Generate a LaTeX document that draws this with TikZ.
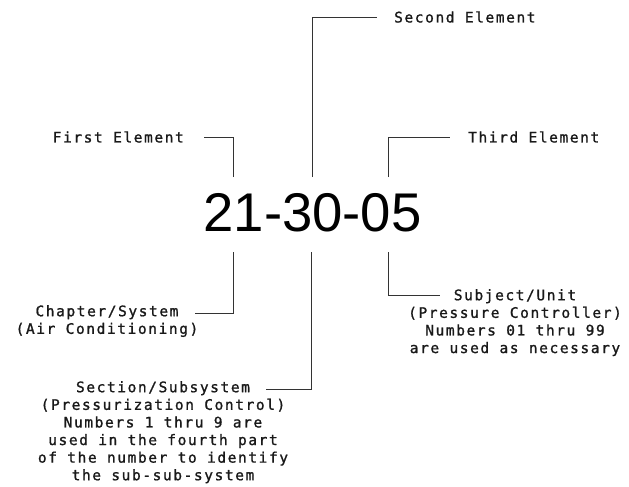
\documentclass[tikz,border=0pt]{standalone}
\usepackage{fontspec}
\newfontfamily\numfont{Liberation Sans}
\newfontfamily\lblfont[LetterSpace=11,FakeBold=1.2]{DejaVu Sans Mono}
\begin{document}
\begin{tikzpicture}[x=1pt,y=-1pt,
  lbl/.style={font=\lblfont\fontsize{14.5}{17.6}\selectfont, inner sep=0pt, text=black!90, align=center},
  lead/.style={draw=black!80, line width=0.9pt}]
\useasboundingbox (0,0) rectangle (629,487);
\node[inner sep=0pt, font=\numfont\fontsize{54.5}{60}\selectfont] (num) at (312.5,212.5) {21-30-05};

% label texts
\node[lbl, anchor=west] (second) at (394,17) {Second Element};
\node[lbl, anchor=east] (first) at (184,137) {First Element};
\node[lbl, anchor=west] (third) at (468,137) {Third Element};
\node[lbl, anchor=north] (chapter) at (107,305) {Chapter/System\\(Air Conditioning)};
\node[lbl, anchor=north] (section) at (163,381) {Section/Subsystem\\(Pressurization Control)\\Numbers 1 thru 9 are\\used in the fourth part\\of the number to identify\\the sub-sub-system};
\node[lbl, anchor=north] (subject) at (515,289) {Subject/Unit\\(Pressure Controller)\\Numbers 01 thru 99\\are used as necessary};

% connector ends
\coordinate (t1) at (233,177);
\coordinate (t2) at (312,177);
\coordinate (t3) at (388,177);
\coordinate (b1) at (233,252);
\coordinate (b2) at (311,252);
\coordinate (b3) at (388,252);
\coordinate (e1) at ([xshift=20pt]first.east);
\coordinate (e2) at ([xshift=-17pt]second.west);
\coordinate (e3) at ([xshift=-18pt]third.west);
\coordinate (e4) at (195,313);
\coordinate (e5) at (266,389);
\coordinate (e6) at (440,295);

\draw[lead] (t1) |- (e1);
\draw[lead] (t2) |- (e2);
\draw[lead] (t3) |- (e3);
\draw[lead] (b1) |- (e4);
\draw[lead] (b2) |- (e5);
\draw[lead] (b3) |- (e6);
\end{tikzpicture}
\end{document}
